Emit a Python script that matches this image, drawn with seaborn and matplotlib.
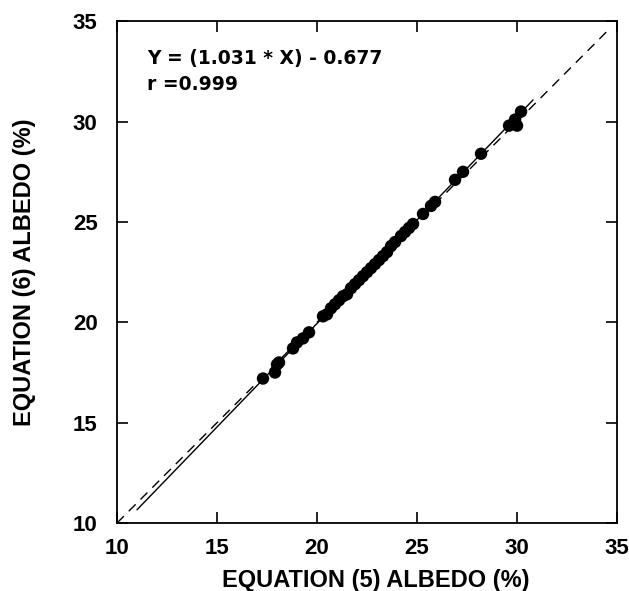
import numpy as np
import pandas as pd
import matplotlib
matplotlib.use('Agg')
import matplotlib.pyplot as plt
import seaborn as sns

# --- data ---
eq5_albedo = [17.3, 17.9, 18.0, 18.1, 18.8, 19.0, 19.3, 19.6, 20.3, 20.5,
              20.7, 20.9, 21.1, 21.3, 21.5, 21.7, 21.9, 22.1, 22.3, 22.5,
              22.7, 22.9, 23.1, 23.3, 23.5, 23.7, 23.9, 24.2, 24.4, 24.6,
              24.8, 25.3, 25.7, 25.9, 26.9, 27.3, 28.2, 29.6, 29.9, 30.0,
              30.2]
eq6_albedo = [17.2, 17.5, 17.9, 18.0, 18.7, 19.0, 19.2, 19.5, 20.3, 20.4,
              20.7, 20.9, 21.1, 21.3, 21.4, 21.7, 21.9, 22.1, 22.3, 22.5,
              22.7, 22.9, 23.1, 23.3, 23.5, 23.8, 24.0, 24.3, 24.5, 24.7,
              24.9, 25.4, 25.8, 26.0, 27.1, 27.5, 28.4, 29.8, 30.1, 29.8,
              30.5]

fit_x = [11.0, 30.8]
fit_y = [10.66, 31.08]
one_to_one = [10.0, 34.5]

ticks = [10, 15, 20, 25, 30, 35]

df = pd.DataFrame({'eq5': eq5_albedo, 'eq6': eq6_albedo})

# plain black-on-white look of the scanned figure
sns.set_style('ticks', {'axes.edgecolor': 'black', 'text.color': 'black',
                        'axes.labelcolor': 'black', 'xtick.color': 'black',
                        'ytick.color': 'black'})
plt.rcParams['font.family'] = ['Liberation Sans', 'DejaVu Sans']
plt.rcParams['font.weight'] = 'bold'

fig = plt.figure(figsize=(6.29, 5.91), dpi=100)
# axes box: 117..617 px across, 21..523 px down
ax = fig.add_axes([0.186, 0.115, 0.795, 0.849])

sns.lineplot(x=one_to_one, y=one_to_one, ax=ax, color='black', lw=1.0,
             linestyle=(0, (7, 5)))
sns.lineplot(x=fit_x, y=fit_y, ax=ax, color='black', lw=1.0)
sns.scatterplot(data=df, x='eq5', y='eq6', ax=ax, color='black', s=80,
                edgecolor='none', zorder=3)

ax.set_xlim(10, 35)
ax.set_ylim(10, 35)
ax.set_xticks(ticks)
ax.set_yticks(ticks)
ax.tick_params(direction='in', length=8, width=1.2, top=True, right=True,
               labelsize=16, colors='black')
ax.tick_params(axis='x', pad=11)
ax.tick_params(axis='y', pad=14)
for lab in ax.get_xticklabels() + ax.get_yticklabels():
    lab.set_fontweight('bold')
for sp in ax.spines.values():
    sp.set_linewidth(1.3)
    sp.set_color('black')

ax.set_xlabel('EQUATION (5) ALBEDO (%)', fontsize=17, fontweight='bold',
              color='black')
ax.set_ylabel('EQUATION (6) ALBEDO (%)', fontsize=17, fontweight='bold',
              color='black')
ax.xaxis.set_label_coords(0.518, -0.092)
ax.yaxis.set_label_coords(-0.162, 0.5)

ax.text(11.5, 32.86, 'Y = (1.031 * X) - 0.677', fontsize=13.5,
        fontweight='bold', family='DejaVu Sans', color='black')
ax.text(11.5, 31.56, 'r =0.999', fontsize=13.5, fontweight='bold',
        family='DejaVu Sans', color='black')

fig.savefig('out.png', dpi=100)
